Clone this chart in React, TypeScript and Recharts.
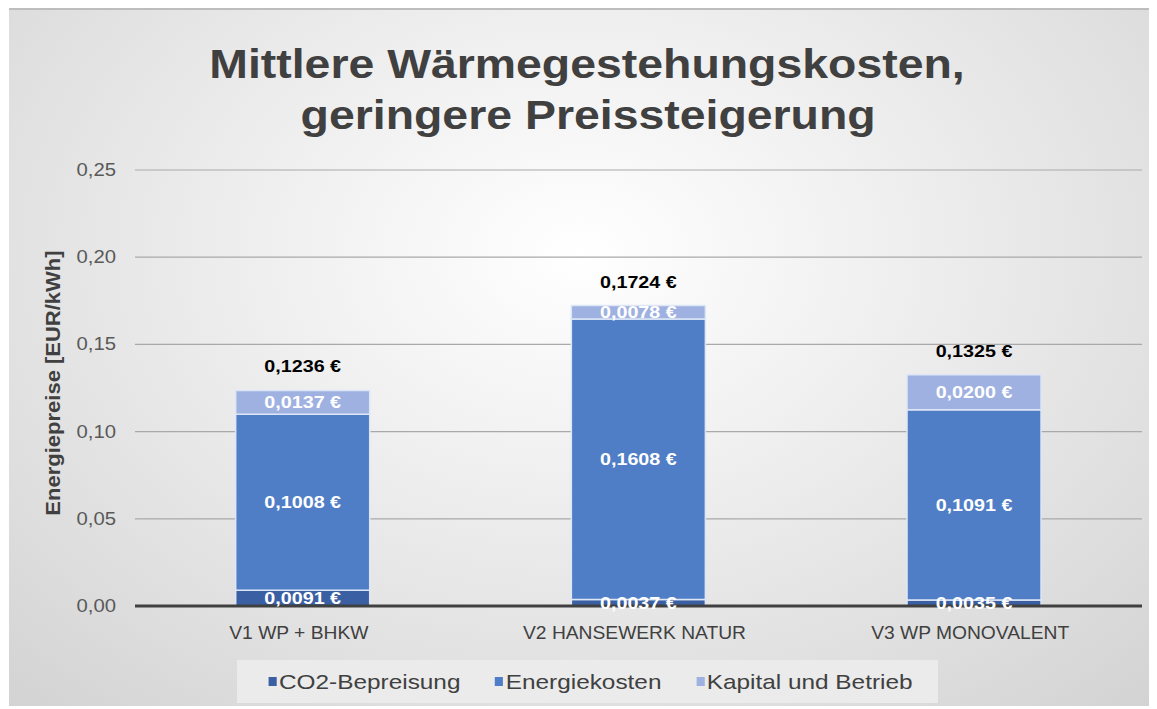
import React from "react";
import { BarChart, Bar, XAxis, YAxis, CartesianGrid, LabelList, Legend } from "recharts";

const categories = ["V1 WP + BHKW", "V2 HANSEWERK NATUR", "V3 WP MONOVALENT"];
const co2 = [0.0091, 0.0037, 0.0035];
const energie = [0.1008, 0.1608, 0.1091];
const kapital = [0.0137, 0.0078, 0.02];
const totals = [0.1236, 0.1724, 0.1325];
const yTicks = [0, 0.05, 0.1, 0.15, 0.2, 0.25];

const data = categories.map((name, i) => ({
  name,
  co2: co2[i],
  energie: energie[i],
  kapital: kapital[i],
  total: totals[i],
}));

const COLORS = { co2: "#3b5fa3", energie: "#4f7ec6", kapital: "#9fb1e0" };

const euro = (v: any) => Number(v).toFixed(4).replace(".", ",") + " €";
const tickFmt = (v: any) => Number(v).toFixed(2).replace(".", ",");

const W = 1142;
const H = 696;
const FONT = "'Liberation Sans', Arial, sans-serif";
const SX = 1.16;

const legendItems = [
  { key: "co2", label: "CO2-Bepreisung" },
  { key: "energie", label: "Energiekosten" },
  { key: "kapital", label: "Kapital und Betrieb" },
];

const LegendContent = () => (
  <div
    style={{
      background: "#ebebeb",
      height: 43,
      display: "flex",
      alignItems: "center",
      justifyContent: "center",
    }}
  >
    <div
      style={{
        display: "flex",
        alignItems: "center",
        gap: 30,
        fontFamily: FONT,
        fontSize: 21,
        color: "#404040",
        transform: `scaleX(${SX})`,
        marginLeft: 6,
      }}
    >
      {legendItems.map((it) => (
        <div key={it.key} style={{ display: "flex", alignItems: "center" }}>
          <span
            style={{
              display: "inline-block",
              width: 7,
              height: 9,
              background: (COLORS as any)[it.key],
              marginRight: 2,
            }}
          />
          <span>{it.label}</span>
        </div>
      ))}
    </div>
  </div>
);

const ScaledText = ({ x, y, text, anchor, fill, size, bold, sx }: any) => (
  <text
    transform={`translate(${x},${y}) scale(${sx || SX},1)`}
    x={0}
    y={0}
    textAnchor={anchor}
    dominantBaseline="central"
    fill={fill}
    fontSize={size}
    fontWeight={bold ? "bold" : "normal"}
    fontFamily={FONT}
  >
    {text}
  </text>
);

const XTick = (props: any) => {
  const { x, y, payload } = props;
  return <ScaledText x={x - 4} y={y + 19} text={payload.value} anchor="middle" fill="#404040" size={17.5} sx={1.1} />;
};

const YTick = (props: any) => {
  const { y, payload } = props;
  return <ScaledText x={107} y={y} text={tickFmt(payload.value)} anchor="end" fill="#595959" size={17.5} />;
};

const SegLabel = (props: any) => {
  const { x, y, width, height, value } = props;
  return (
    <ScaledText
      x={Number(x) + Number(width) / 2}
      y={Number(y) + Number(height) / 2}
      text={euro(value)}
      anchor="middle"
      fill="#ffffff"
      size={17}
      bold
    />
  );
};

const TotalLabel = (props: any) => {
  const { x, y, width, value } = props;
  return (
    <ScaledText
      x={Number(x) + Number(width) / 2}
      y={Number(y) - 24}
      text={euro(value)}
      anchor="middle"
      fill="#000000"
      size={17}
      bold
    />
  );
};

export default function App() {
  return (
    <div
      style={{
        position: "relative",
        width: W,
        height: H,
        marginLeft: 1,
        background:
          "radial-gradient(ellipse 75% 90% at 50% 35%, #ffffff 0%, #f0f0f0 35%, #dedede 75%, #d2d2d2 100%)",
        borderTop: "2px solid #bdbdbd",
        fontFamily: FONT,
      }}
    >
      <div
        style={{
          position: "absolute",
          top: 29,
          left: 0,
          width: W,
          textAlign: "center",
          fontSize: 40,
          fontWeight: "bold",
          color: "#404040",
          lineHeight: "51px",
          transform: `scaleX(${SX})`,
          transformOrigin: "50% 50%",
        }}
      >
        <div style={{ marginLeft: 12 }}>Mittlere Wärmegestehungskosten,</div>
        <div style={{ marginLeft: 14 }}>geringere Preissteigerung</div>
      </div>
      <div
        style={{
          position: "absolute",
          left: 44 - 150,
          top: 363,
          width: 300,
          textAlign: "center",
          transform: "rotate(-90deg) scaleX(1.1)",
          fontSize: 20,
          fontWeight: "bold",
          color: "#404040",
          lineHeight: "20px",
        }}
      >
        Energiepreise [EUR/kWh]
      </div>
      <div style={{ position: "absolute", left: 0, top: 0 }}>
        <BarChart
          width={W}
          height={H}
          data={data}
          margin={{ top: 160, right: 9, bottom: 68, left: 52 }}
          barCategoryGap="30%"
        >
          <CartesianGrid vertical={false} stroke="#a9a9a9" strokeWidth={1.2} />
          <XAxis
            dataKey="name"
            height={32}
            tickLine={false}
            axisLine={{ stroke: "#404040", strokeWidth: 3 }}
            tick={<XTick />}
          />
          <YAxis
            width={74}
            domain={[0, 0.25]}
            ticks={yTicks}
            axisLine={false}
            tickLine={false}
            tick={<YTick />}
          />
          <Legend
            verticalAlign="middle"
            align="center"
            layout="horizontal"
            content={<LegendContent />}
            wrapperStyle={{ top: 650, left: 228, width: 701 }}
          />
          <Bar dataKey="co2" stackId="a" fill={COLORS.co2} stroke="#dde6f6" strokeWidth={1.5} isAnimationActive={false}>
            <LabelList dataKey="co2" content={<SegLabel />} />
          </Bar>
          <Bar dataKey="energie" stackId="a" fill={COLORS.energie} stroke="#dde6f6" strokeWidth={1.5} isAnimationActive={false}>
            <LabelList dataKey="energie" content={<SegLabel />} />
          </Bar>
          <Bar dataKey="kapital" stackId="a" fill={COLORS.kapital} stroke="#dde6f6" strokeWidth={1.5} isAnimationActive={false}>
            <LabelList dataKey="kapital" content={<SegLabel />} />
            <LabelList dataKey="total" content={<TotalLabel />} />
          </Bar>
        </BarChart>
      </div>
    </div>
  );
}
